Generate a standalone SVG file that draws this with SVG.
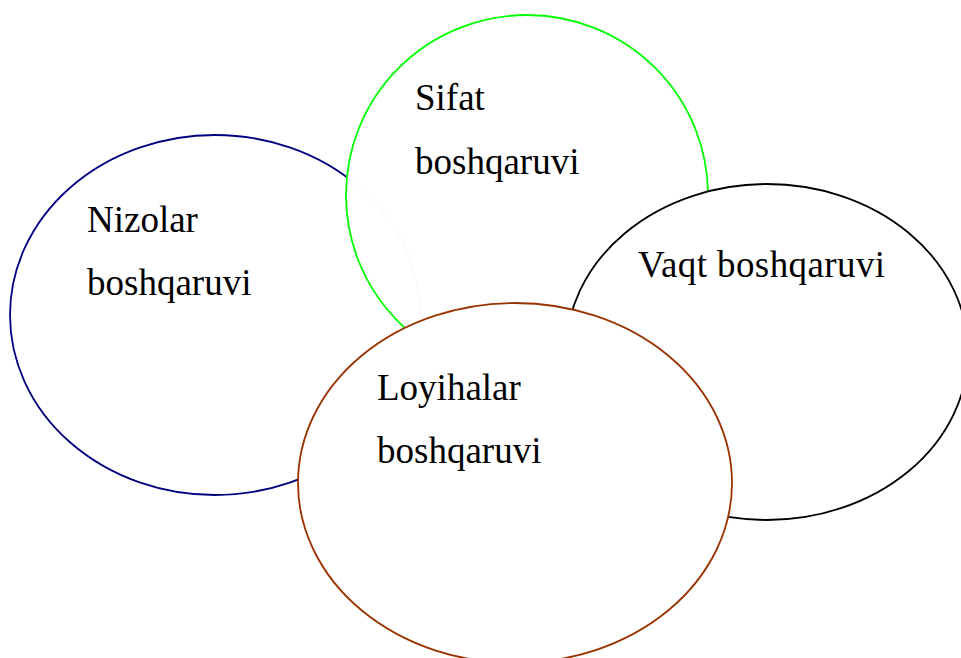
<svg xmlns="http://www.w3.org/2000/svg" width="961" height="658" viewBox="0 0 961 658">
<style>
.e{fill:#fff;stroke-width:1.8}
.t{font-family:"Liberation Serif","Times New Roman",serif;font-size:37px;fill:#000}
</style>
<rect width="961" height="658" fill="#fff"/>
<g id="nizolar">
<ellipse class="e" cx="215" cy="315" rx="205" ry="180" stroke="#000080"/>
<text class="t" x="87" y="232">Nizolar</text>
<text class="t" x="87" y="295">boshqaruvi</text>
</g>
<g id="sifat">
<ellipse class="e" cx="527" cy="195" rx="181" ry="180" stroke="#00ff00" fill-opacity="0.98"/>
<text class="t" x="415" y="110">Sifat</text>
<text class="t" x="415" y="174">boshqaruvi</text>
</g>
<g id="vaqt">
<ellipse class="e" cx="767" cy="352" rx="201" ry="168" stroke="#000"/>
<text class="t" x="638" y="277" letter-spacing="0.4">Vaqt boshqaruvi</text>
</g>
<g id="loyihalar">
<ellipse class="e" cx="515" cy="483" rx="217" ry="180" stroke="#993300"/>
<text class="t" x="377" y="400">Loyihalar</text>
<text class="t" x="377" y="463">boshqaruvi</text>
</g>
<g id="connectors"/>
</svg>
